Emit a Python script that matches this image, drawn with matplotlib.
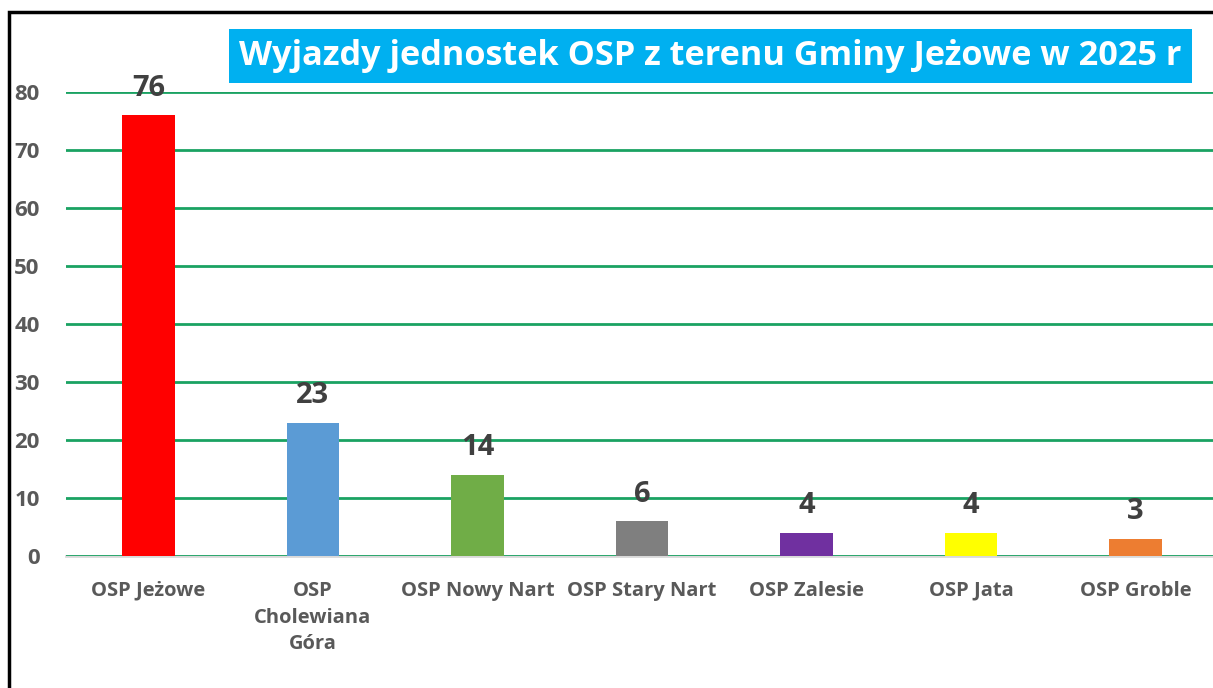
import matplotlib.pyplot as plt
from matplotlib.patches import Rectangle

# Dane
jednostki = ["OSP Jeżowe", "OSP\nCholewiana\nGóra", "OSP Nowy Nart", "OSP Stary Nart",
             "OSP Zalesie", "OSP Jata", "OSP Groble"]
wyjazdy = [76, 23, 14, 6, 4, 4, 3]
kolory = ["#FF0000", "#5B9BD5", "#70AD47", "#7F7F7F", "#7030A0", "#FFFF00", "#ED7D31"]
tytul = "Wyjazdy jednostek OSP z terenu Gminy Jeżowe w 2025 r"

plt.rcParams['font.family'] = ['Open Sans', 'DejaVu Sans']

fig = plt.figure(figsize=(12.13, 6.88), dpi=100)
ax = fig.add_axes([0.0544, 0.1919, 0.9497, 0.6744])

x = range(len(jednostki))
bars = ax.bar(x, wyjazdy, width=0.32, color=kolory, zorder=3)

# Etykiety nad słupkami
for bar, v in zip(bars, wyjazdy):
    ax.annotate(str(v), (bar.get_x() + bar.get_width() / 2, v), xytext=(0, 9),
                textcoords='offset points', ha='center', va='bottom',
                fontsize=21, fontweight='bold', color='#404040', zorder=4)

ax.set_xlim(-0.5, len(jednostki) - 0.5)
ax.set_ylim(0, 80)
ax.set_yticks(range(0, 81, 10))
ax.set_xticks(list(x))
ax.set_xticklabels(jednostki, fontsize=14.5, fontweight='bold', color='#595959', linespacing=1.45)
for lab in ax.get_yticklabels():
    lab.set_fontweight('bold')
ax.tick_params(axis='y', length=0, labelsize=16, labelcolor='#595959', pad=19)
ax.tick_params(axis='x', length=0, pad=18)

ax.grid(axis='y', color='#1AA262', linewidth=2, zorder=0)
for s in ['top', 'right', 'left']:
    ax.spines[s].set_visible(False)
ax.spines['bottom'].set_color('#D9D9D9')
ax.spines['bottom'].set_linewidth(2)
ax.spines['bottom'].set_zorder(1)

# Tytuł w niebieskiej ramce
fig.text(0.5857, 0.9186, tytul, ha='center', va='center', fontsize=24.7, fontweight='bold',
         color='white', bbox=dict(boxstyle='square,pad=0.3', facecolor='#00B0F0', edgecolor='none'))

# Ramka
fig.patches.append(Rectangle((8.5 / 1213, -0.1), 1.2, 1.1 - 12 / 688, transform=fig.transFigure,
                             fill=False, edgecolor='black', linewidth=2.5))

plt.savefig('out.png', dpi=100)
